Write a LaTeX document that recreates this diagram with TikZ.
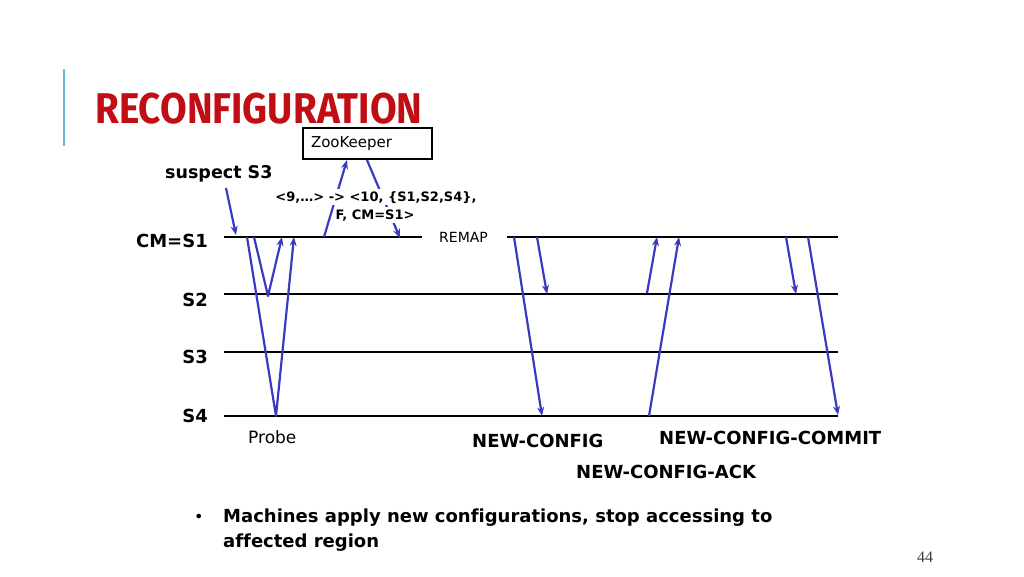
\documentclass[tikz,border=0pt]{standalone}
\usepackage{fontspec}
\setmainfont{DejaVu Sans}[Ligatures={NoCommon}]
\newfontfamily\titlefont{Fira Sans}
\newfontfamily\pagefont{Liberation Serif}
\usepackage{xcolor}
\usetikzlibrary{arrows.meta, positioning}
\definecolor{titlered}{RGB}{192,14,20}
\definecolor{barcyan}{RGB}{96,186,214}
\definecolor{msgblue}{RGB}{58,58,192}

\begin{document}
\begin{tikzpicture}[
    x=1pt, y=-1pt,
    txt/.style={inner sep=0pt, anchor=base west},
    server/.style={inner sep=0pt, anchor=base east, font=\bfseries\fontsize{18}{18}\selectfont},
    tag/.style={txt, font=\bfseries\fontsize{18}{18}\selectfont},
    timeline/.style={line width=2.8pt},
    msg/.style={draw=msgblue, line width=2.2pt, line join=round},
    arrow/.style={msg, -{Stealth[length=9pt, width=7pt]}}
]
\useasboundingbox (0,0) rectangle (1024,576);

% Title
\draw[barcyan, line width=2pt] (64,69) -- (64,146);
\node[txt, text=titlered, font=\titlefont\bfseries\fontsize{43}{43}\selectfont] (title) at (95,123) {\scalebox{0.9}[1]{RECONFIGURATION}};

% ZooKeeper
\node[draw, line width=1.2pt, minimum height=31pt, text width=113pt, inner xsep=8pt, align=left, font=\fontsize{15}{15}\selectfont] (zk) at (367.5,143.5) {ZooKeeper};
\coordinate (zkin) at (347,160);
\coordinate (zkout) at (367,160);

% Servers
\node[server] (cm) at (208,247) {CM=S1};
\node[server] (s2) at (208,306) {S2};
\node[server] (s3) at (208,363) {S3};
\node[server] (s4) at (208,422) {S4};

\coordinate (s1w) at (224,237);
\coordinate (s1m) at (422,237);
\coordinate (s1n) at (507,237);
\coordinate (s1e) at (838,237);
\coordinate (s2w) at (224,294);
\coordinate (s2e) at (838,294);
\coordinate (s3w) at (224,352);
\coordinate (s3e) at (838,352);
\coordinate (s4w) at (224,416);
\coordinate (s4e) at (838,416);

\draw[timeline] (s1w) -- (s1m);
\draw[timeline] (s1n) -- (s1e);
\draw[timeline] (s2w) -- (s2e);
\draw[timeline] (s3w) -- (s3e);
\draw[timeline] (s4w) -- (s4e);

\node[txt, font=\fontsize{14}{14}\selectfont] (remap) at (439,242) {REMAP};

% Suspect
\node[tag, font=\bfseries\fontsize{17.5}{17.5}\selectfont] (suspect) at (165,178) {suspect S3};
\coordinate (susp) at (226,188);
\coordinate (suspend) at (236,235);
\draw[arrow] (susp) -- (suspend);

% Probe
\coordinate (pra) at (247,237);
\coordinate (prb) at (276,416);
\coordinate (prc) at (294,237);
\coordinate (pqa) at (254,237);
\coordinate (pqb) at (268,296);
\coordinate (pqc) at (282,237);
\draw[arrow] (pra) -- (prb) -- (prc);
\draw[arrow] (pqa) -- (pqb) -- (pqc);
\node[txt, font=\fontsize{17}{17}\selectfont] (probe) at (248,443) {Probe};

% ZooKeeper update
\coordinate (zkup) at (324,237);
\coordinate (zkdown) at (400,238);
\draw[arrow] (zkup) -- (zkin);
\draw[arrow] (zkout) -- (zkdown);
\node[fill=white, inner sep=2pt, anchor=base, font=\bfseries\fontsize{13}{13}\selectfont] (cfgtop) at (376,201) {<9,…> -> <10, \{S1,S2,S4\},};
\node[fill=white, inner sep=2pt, anchor=base, font=\bfseries\fontsize{13}{13}\selectfont] (cfgbot) at (375,219) {F, CM=S1>};

% New config
\coordinate (nca) at (514,237);
\coordinate (ncb) at (542,416);
\coordinate (ncc) at (537,237);
\coordinate (ncd) at (547,294);
\draw[arrow] (nca) -- (ncb);
\draw[arrow] (ncc) -- (ncd);

% Acks
\coordinate (aka) at (647,293);
\coordinate (akb) at (657,237);
\coordinate (akc) at (649,416);
\coordinate (akd) at (679,237);
\draw[arrow] (aka) -- (akb);
\draw[arrow] (akc) -- (akd);

% Commit
\coordinate (cma) at (786,237);
\coordinate (cmb) at (796,294);
\coordinate (cmc) at (808,237);
\coordinate (cmd) at (838,415);
\draw[arrow] (cma) -- (cmb);
\draw[arrow] (cmc) -- (cmd);

\node[tag] (newcfg) at (472,447) {NEW-CONFIG};
\node[tag] (commit) at (659,444) {NEW-CONFIG-COMMIT};
\node[tag] (ack) at (576,478) {NEW-CONFIG-ACK};

% Note
\node[txt, font=\fontsize{16}{16}\selectfont] (dot) at (194,522) {•};
\node[tag] (pt1) at (223,522) {Machines apply new configurations, stop accessing to};
\node[tag] (pt2) at ([yshift=-25pt]pt1.base west) {affected region};

\node[txt, text=black!75, font=\pagefont\fontsize{16}{16}\selectfont] (page) at (917,562) {44};

\end{tikzpicture}
\end{document}
